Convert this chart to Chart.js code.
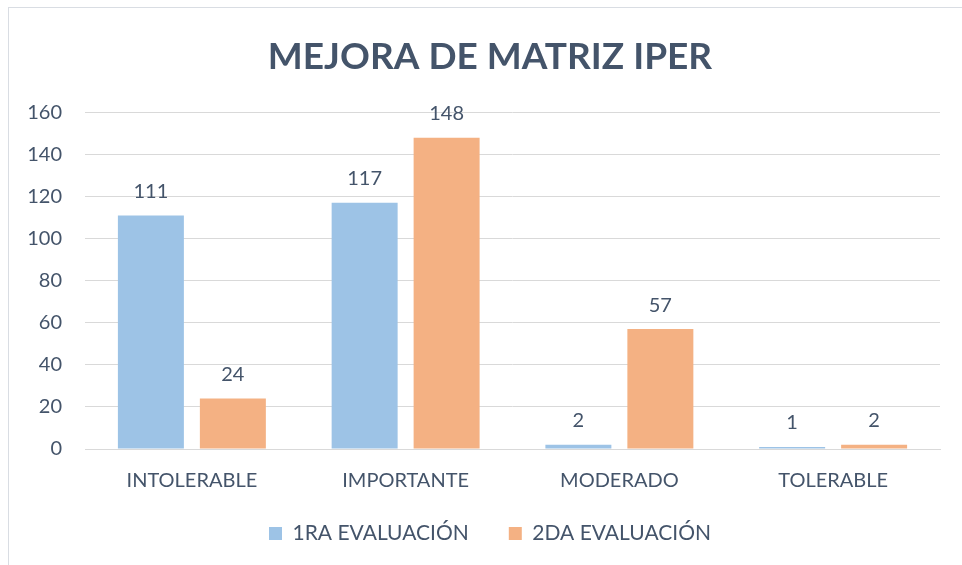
<!DOCTYPE html>
<html>
<head>
<meta charset="utf-8">
<script src="https://cdn.jsdelivr.net/npm/chart.js@4"></script>
<style>
  html, body { margin: 0; padding: 0; background: #fff; overflow: hidden; }
  #wrap { position: relative; width: 962px; height: 565px; }
  #frame { position: absolute; left: 8px; top: 7px; width: 970px; height: 600px; border: 1px solid #D9DDE3; box-sizing: border-box; }
  canvas { position: absolute; left: 0; top: 0; }
</style>
</head>
<body>
<div id="wrap">
  <div id="frame"></div>
  <canvas id="myChart" width="962" height="565"></canvas>
</div>
<script>
const categories = ['INTOLERABLE', 'IMPORTANTE', 'MODERADO', 'TOLERABLE'];
const seriesNames = ['1RA EVALUACIÓN', '2DA EVALUACIÓN'];
const firstEval = [111, 117, 2, 1];
const secondEval = [24, 148, 57, 2];
const yTicks = [0, 20, 40, 60, 80, 100, 120, 140, 160];

const textColor = '#44546A';
const fontFamily = 'Lato, "Open Sans", sans-serif';

// draws the value above every bar
const barLabels = {
  id: 'barLabels',
  afterDatasetsDraw(chart) {
    const ctx = chart.ctx;
    ctx.save();
    ctx.font = '20px ' + fontFamily;
    ctx.fillStyle = textColor;
    ctx.textAlign = 'center';
    ctx.textBaseline = 'bottom';
    chart.data.datasets.forEach((ds, i) => {
      chart.getDatasetMeta(i).data.forEach((bar, j) => {
        ctx.fillText(String(ds.data[j]), bar.x, bar.y - 14);
      });
    });
    ctx.restore();
  }
};

// the original frame is wider than the picture, so title and legend sit a bit right of centre
const shiftBoxes = {
  id: 'shiftBoxes',
  afterLayout(chart) {
    if (chart.titleBlock) chart.titleBlock.left = 40;
    if (chart.legend) {
      chart.legend.left = 40;
      chart.legend.top -= 10;
    }
  }
};

new Chart(document.getElementById('myChart'), {
  type: 'bar',
  data: {
    labels: categories,
    datasets: [
      { label: seriesNames[0], data: firstEval, backgroundColor: '#9DC3E6' },
      { label: seriesNames[1], data: secondEval, backgroundColor: '#F4B183' }
    ]
  },
  options: {
    responsive: false,
    animation: false,
    categoryPercentage: 0.767,
    barPercentage: 0.805,
    layout: { padding: { left: 0, right: 22, top: 0, bottom: 1 } },
    plugins: {
      title: {
        display: true,
        text: 'MEJORA DE MATRIZ IPER',
        color: textColor,
        font: { family: fontFamily, size: 37, weight: 'bold' },
        padding: { top: 35, bottom: 33 }
      },
      legend: {
        position: 'bottom',
        labels: {
          color: textColor,
          font: { family: fontFamily, size: 21 },
          boxWidth: 13,
          boxHeight: 13,
          padding: 40
        }
      },
      tooltip: { enabled: false }
    },
    scales: {
      x: {
        grid: { display: false, drawTicks: false },
        border: { display: true, color: '#D9D9D9' },
        afterFit(scale) { scale.height = 44; },
        ticks: {
          color: textColor,
          font: { family: fontFamily, size: 20 },
          padding: 20
        }
      },
      y: {
        min: 0,
        max: 160,
        afterFit(scale) { scale.width = 85; },
        afterBuildTicks(scale) { scale.ticks = yTicks.map(v => ({ value: v })); },
        grid: { color: '#D9D9D9', drawTicks: false },
        border: { display: false },
        ticks: {
          color: textColor,
          font: { family: fontFamily, size: 20 },
          padding: 23
        }
      }
    }
  },
  plugins: [barLabels, shiftBoxes]
});
</script>
</body>
</html>
